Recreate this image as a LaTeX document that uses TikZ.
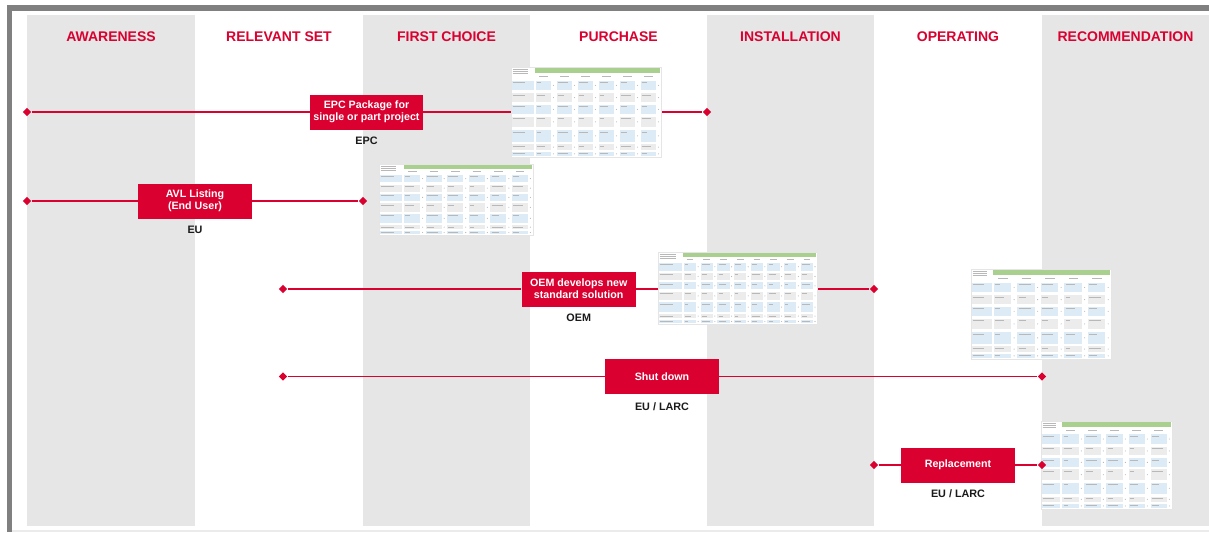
\documentclass[tikz,border=0pt]{standalone}
\usepackage{fontspec}
\setmainfont{Liberation Sans}
\usetikzlibrary{shapes.geometric}
\definecolor{brandred}{RGB}{218,0,48}
\definecolor{colgray}{RGB}{230,230,230}
\definecolor{framegray}{RGB}{128,128,128}
\definecolor{tgreen}{RGB}{169,208,142}
\definecolor{tblue}{RGB}{221,235,247}
\definecolor{tgray}{RGB}{236,236,236}
\definecolor{labblack}{RGB}{26,26,26}
\pgfdeclarelayer{cols}
\pgfdeclarelayer{lines}
\pgfdeclarelayer{thumbs}
\pgfsetlayers{cols,lines,thumbs,main}
\tikzset{tstroke/.style={black!28, line width=0.3pt}}
\newcommand{\thumbtab}[5]{%
\begin{scope}[shift={(#1,#2)}]
 \pgfmathsetmacro\tw{#3}
 \pgfmathsetmacro\th{#4}
 \pgfmathsetmacro\lw{0.16*\tw}
 \pgfmathsetmacro\cw{(\tw-\lw)/#5}
 \pgfmathtruncatemacro\nc{#5-1}
 \fill[white] (0,0) rectangle (\tw,\th);
 \draw[black!10, line width=0.4pt] (0,0) rectangle (\tw,\th);
 \fill[tgreen] (\lw,1.2) rectangle (\tw-1,0.065*\th);
 \foreach \k in {0,1,2}{\draw[tstroke] (1.5,2+\k*2.2) -- (0.7*\lw,2+\k*2.2);}
 \foreach \j in {0,...,\nc}{
   \draw[tstroke] ({\lw+(\j+0.2)*\cw},0.1*\th) -- ({\lw+(\j+0.6)*\cw},0.1*\th);
 }
 \foreach \rr/\ya/\yb in {0/0.15/0.26,1/0.29/0.39,2/0.42/0.52,3/0.55/0.67,4/0.70/0.83,5/0.86/0.92,6/0.94/0.99}{
   \ifodd\rr \def\cc{tgray}\else\def\cc{tblue}\fi
   \fill[\cc] (1,\ya*\th) rectangle (\lw-1.5,\yb*\th);
   \draw[tstroke] (1.5,\ya*\th+1.8) -- (0.6*\lw,\ya*\th+1.8);
   \foreach \j in {0,...,\nc}{
     \pgfmathsetmacro\xa{\lw+\j*\cw+0.5}
     \pgfmathsetmacro\xb{\lw+(\j+0.76)*\cw}
     \pgfmathsetmacro\ff{0.3+0.1*mod(\rr*3+\j*5,6)}
     \fill[\cc] (\xa,\ya*\th) rectangle (\xb,\yb*\th);
     \draw[tstroke] (\xa+1.2,\ya*\th+1.8) -- ({\xa+1.2+\ff*(\xb-\xa-2)},\ya*\th+1.8);
     \fill[black!30] ({\lw+(\j+0.88)*\cw},{(\ya+\yb)/2*\th}) circle (0.4pt);
   }
 }
\end{scope}}
\begin{document}
\begin{tikzpicture}[x=0.75pt,y=-0.75pt,
  redbox/.style={fill=brandred, text=white, font=\fontsize{8}{8.8}\selectfont\bfseries, align=center, minimum width=85.5pt, minimum height=26.25pt, inner sep=1pt},
  hdr/.style={text=brandred, font=\fontsize{10.5}{12}\selectfont\bfseries},
  lab/.style={text=labblack, font=\fontsize{8.1}{9}\selectfont\bfseries},
  conn/.style={draw=brandred, line width=0.85pt},
  dia/.style={diamond, fill=brandred, inner sep=0pt, minimum width=6.5pt, minimum height=6.5pt}]
\useasboundingbox (0,0) rectangle (1209,532);
\begin{pgfonlayer}{cols}
 \fill[white] (0,0) rectangle (1209,532);
 \fill[colgray] (27,15) rectangle (195,526);
 \fill[colgray] (363,15) rectangle (530,526);
 \fill[colgray] (707,15) rectangle (874,526);
 \fill[colgray] (1042,15) rectangle (1209,526);
 \draw[framegray, line width=3.9pt] (9.5,532) -- (9.5,8) -- (1209,8);
 \draw[black!8, line width=1.5pt] (12,531) -- (1209,531);
\end{pgfonlayer}
% headers
\node[hdr] (h1) at (111,36.5) {AWARENESS};
\node[hdr] (h2) at (279,36.5) {RELEVANT SET};
\node[hdr] (h3) at (446.5,36.5) {FIRST CHOICE};
\node[hdr] (h4) at (618.5,36.5) {PURCHASE};
\node[hdr] (h5) at (790.5,36.5) {INSTALLATION};
\node[hdr] (h6) at (958,36.5) {OPERATING};
\node[hdr] (h7) at (1125.5,36.5) {RECOMMENDATION};
% thumbnails
\begin{pgfonlayer}{thumbs}
 \thumbtab{511}{67}{150}{90}{6}
 \thumbtab{379}{164}{154}{71}{6}
 \thumbtab{658}{252}{159}{72}{8}
 \thumbtab{971}{269}{140}{90}{5}
 \thumbtab{1041}{421}{131}{88}{5}
\end{pgfonlayer}
% row 1
\node[dia] (d1a) at (27,112) {};
\node[dia] (d1b) at (707,112) {};
\node[redbox, minimum width=84.75pt] (epc) at (366.5,112) {EPC Package for\\single or part project};
\node[lab] (l1) at (366.5,141) {EPC};
% row 2
\node[dia] (d2a) at (27,201) {};
\node[dia] (d2b) at (363,201) {};
\node[redbox] (avl) at (195,201) {AVL Listing\\(End User)};
\node[lab] (l2) at (195,230) {EU};
% row 3
\node[dia] (d3a) at (283,289) {};
\node[dia] (d3b) at (874,289) {};
\node[redbox] (oem) at (578.7,289) {OEM develops new\\standard solution};
\node[lab] (l3) at (578.7,318) {OEM};
% row 4
\node[dia] (d4a) at (283,376.5) {};
\node[dia] (d4b) at (1042,376.5) {};
\node[redbox] (shut) at (662,376.5) {Shut down};
\node[lab] (l4) at (662,407) {EU / LARC};
% row 5
\node[dia] (d5a) at (874,465) {};
\node[dia] (d5b) at (1042,465) {};
\node[redbox] (rep) at (958,465) {Replacement};
\node[lab] (l5) at (958,494) {EU / LARC};
\begin{pgfonlayer}{lines}
 \draw[conn] (d1a) -- (epc); \draw[conn] (epc) -- (d1b);
 \draw[conn] (d2a) -- (avl); \draw[conn] (avl) -- (d2b);
 \draw[conn] (d3a) -- (oem); \draw[conn] (oem) -- (d3b);
 \draw[conn] (d4a) -- (shut); \draw[conn] (shut) -- (d4b);
 \draw[conn] (d5a) -- (rep); \draw[conn] (rep) -- (d5b);
\end{pgfonlayer}
\end{tikzpicture}
\end{document}
